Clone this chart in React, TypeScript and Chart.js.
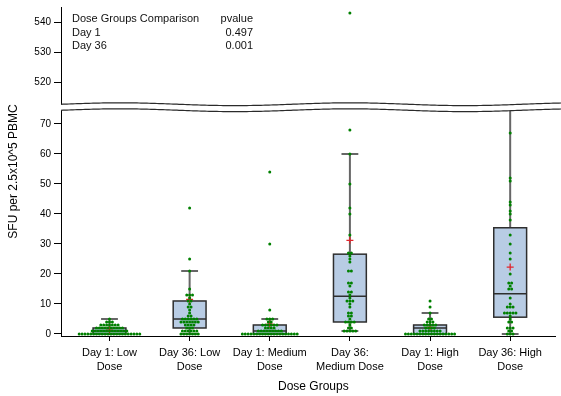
import React, { useEffect, useRef } from 'react';
import { Chart, registerables } from 'chart.js';

Chart.register(...registerables);

const FONT = '"Liberation Sans", Arial, Helvetica, sans-serif';
Chart.defaults.font.family = FONT;

// ---- data ---------------------------------------------------------------
const groupLabels: string[][] = [
  ['Day 1: Low', 'Dose'],
  ['Day 36: Low', 'Dose'],
  ['Day 1: Medium', 'Dose'],
  ['Day 36:', 'Medium Dose'],
  ['Day 1: High', 'Dose'],
  ['Day 36: High', 'Dose'],
];

const day1Low = [
  5, 4, 4, 4, 3, 3, 3, 3, 3, 3, 3, 2, 2, 2, 2, 2, 2, 2, 2, 2, 2,
  1, 1, 1, 1, 1, 1, 1, 1, 1, 1, 1, 1, 1,
  0, 0, 0, 0, 0, 0, 0, 0, 0, 0, 0, 0, 0, 0, 0, 0, 0, 0, 0, 0, 0, 0,
];
const day36Low = [
  42, 25, 21, 15, 13, 13, 13, 12, 11, 11, 10, 9, 9, 8, 7, 6, 6,
  5, 5, 5, 5, 5, 5, 4, 4, 4, 4, 4, 4, 4, 3, 3, 3, 3, 2, 2, 2,
  1, 1, 1, 1, 1, 1, 0, 0, 0, 0, 0, 0, 0,
];
const day1Medium = [
  54, 30, 8, 5, 5, 5, 4, 4, 3, 3, 3, 3, 3, 3, 2, 2, 2, 2,
  1, 1, 1, 1, 1, 1, 1, 1, 1,
  0, 0, 0, 0, 0, 0, 0, 0, 0, 0, 0, 0, 0, 0, 0, 0, 0, 0, 0, 0,
];
const day36Medium = [
  543, 68, 60, 50, 42, 40, 33, 27, 27, 26, 25, 24, 21, 21, 17, 17, 16,
  14, 14, 13, 12, 11, 11, 11, 10, 9, 7, 7, 6, 6, 5, 4, 4, 4, 4, 3, 2, 2,
  1, 1, 1, 1, 1,
];
const day1High = [
  11, 9, 7, 5, 5, 4, 4, 4, 3, 3, 3, 3, 3, 2, 2, 2, 2,
  1, 1, 1, 1, 1, 1, 1, 1,
  0, 0, 0, 0, 0, 0, 0, 0, 0, 0, 0, 0, 0, 0, 0, 0, 0, 0,
];
const day36High = [
  67, 52, 51, 44, 43, 41, 40, 38, 33, 30, 27, 25, 20, 17, 17, 16, 15, 15,
  12, 10, 9, 9, 9, 7, 7, 7, 7, 7, 6, 5, 4, 4, 2, 2, 2, 1, 1, 0, 0, 0,
];
const groupValues = [day1Low, day36Low, day1Medium, day36Medium, day1High, day36High];

// box-plot summaries per group
const q1 = [0, 2, 0, 4, 0, 5.6];
const medians = [1, 5, 1, 12.6, 2, 13.4];
const q3 = [2, 11, 3, 26.6, 3, 35.4];
const whiskerLow = [0, 0, 0, 1, 0, 0];
const whiskerHigh = [5, 21, 5, 60, 7, 78];
const means = [1.3, 11.5, 3.3, 31.2, 2.2, 22.3];

// comparison table
const tableHeader = ['Dose Groups Comparison', 'pvalue'];
const comparisons = ['Day 1', 'Day 36'];
const pvalues = ['0.497', '0.001'];

// axes
const upperTicks = [520, 530, 540];
const lowerTicks = [0, 10, 20, 30, 40, 50, 60, 70];
const upperRange = [511.7, 545];
const lowerRange = [-0.67, 75.67];
const BREAK_VALUE = 500;
const X_TITLE = 'Dose Groups';
const Y_TITLE = 'SFU per 2.5x10^5 PBMC';

// ---- layout helpers -----------------------------------------------------
const BOX_HALF = 0.205; // half box width, category units
const CAP_HALF = 0.105; // half whisker-cap width
const DOT_STEP = 0.036; // spacing of tied values in a row

function swarm(values: number[], center: number) {
  const totals = new Map<number, number>();
  values.forEach((v) => totals.set(v, (totals.get(v) || 0) + 1));
  const seen = new Map<number, number>();
  return values.map((v) => {
    const n = totals.get(v) as number;
    const k = seen.get(v) || 0;
    seen.set(v, k + 1);
    return { x: center + (k - (n - 1) / 2) * DOT_STEP, y: v };
  });
}

const lowerPoints: { x: number; y: number }[] = [];
const upperPoints: { x: number; y: number }[] = [];
groupValues.forEach((vals, i) => {
  swarm(vals, i + 1).forEach((p) => (p.y > BREAK_VALUE ? upperPoints : lowerPoints).push(p));
});
const meanPoints = means.map((m, i) => ({ x: i + 1, y: m }));

// boxes and whiskers, drawn beneath the dots
const boxPlugin = {
  id: 'boxes',
  beforeDatasetsDraw(chart: any) {
    const { ctx } = chart;
    const xs = chart.scales.x;
    const ys = chart.scales.y;
    ctx.save();
    ctx.beginPath();
    ctx.rect(chart.chartArea.left, ys.top, chart.chartArea.right - chart.chartArea.left, ys.bottom - ys.top);
    ctx.clip();
    for (let i = 0; i < q1.length; i++) {
      const c = xs.getPixelForValue(i + 1);
      const bl = xs.getPixelForValue(i + 1 - BOX_HALF);
      const br = xs.getPixelForValue(i + 1 + BOX_HALF);
      const cl = xs.getPixelForValue(i + 1 - CAP_HALF);
      const cr = xs.getPixelForValue(i + 1 + CAP_HALF);
      const yLo = ys.getPixelForValue(whiskerLow[i]);
      const yHi = ys.getPixelForValue(whiskerHigh[i]);
      const yQ1 = ys.getPixelForValue(q1[i]);
      const yQ3 = ys.getPixelForValue(q3[i]);
      const yMed = ys.getPixelForValue(medians[i]);

      ctx.strokeStyle = '#666666';
      ctx.lineWidth = 2;
      ctx.beginPath();
      ctx.moveTo(c, yLo);
      ctx.lineTo(c, yHi);
      ctx.moveTo(cl, yLo);
      ctx.lineTo(cr, yLo);
      ctx.moveTo(cl, yHi);
      ctx.lineTo(cr, yHi);
      ctx.stroke();

      ctx.fillStyle = '#b8cce4';
      ctx.fillRect(bl, yQ3, br - bl, yQ1 - yQ3);
      ctx.strokeStyle = '#2e2e2e';
      ctx.lineWidth = 1.5;
      ctx.strokeRect(bl, yQ3, br - bl, yQ1 - yQ3);
      ctx.beginPath();
      ctx.moveTo(bl, yMed);
      ctx.lineTo(br, yMed);
      ctx.stroke();
    }
    ctx.restore();
  },
};

// axis break, comparison table and axis titles
const overlayPlugin = {
  id: 'overlay',
  afterDraw(chart: any) {
    const { ctx, chartArea, width, height } = chart;
    const ys = chart.scales.y;
    const boundary = ys.top;
    const x0 = chartArea.left + 1.5;
    const P = 230;
    const A = 1.4;
    const upper = (x: number) => boundary - 2.7 - A * Math.sin((2 * Math.PI * (x - x0)) / P);
    const gap = 6;

    ctx.save();
    const xs0 = chartArea.left - 1.5;
    ctx.beginPath();
    for (let x = xs0; x <= width + 1; x += 2) {
      if (x === xs0) ctx.moveTo(x, upper(x));
      else ctx.lineTo(x, upper(x));
    }
    for (let x = width + 1; x >= xs0; x -= 2) ctx.lineTo(x, upper(x) + gap);
    ctx.closePath();
    ctx.fillStyle = '#ffffff';
    ctx.fill();

    ctx.strokeStyle = '#2b2b2b';
    ctx.lineWidth = 1.2;
    for (const off of [0, gap]) {
      ctx.beginPath();
      for (let x = chartArea.left; x <= width + 1; x += 2) {
        if (x === chartArea.left) ctx.moveTo(x, upper(x) + off);
        else ctx.lineTo(x, upper(x) + off);
      }
      ctx.stroke();
    }

    // comparison table
    ctx.fillStyle = '#111';
    ctx.font = `11px ${FONT}`;
    ctx.textBaseline = 'middle';
    const tx = chartArea.left + 11;
    const rx = chartArea.left + 192;
    const rows = [tableHeader, ...comparisons.map((c, i) => [c, pvalues[i]])];
    rows.forEach((r, i) => {
      const y = chartArea.top + 12 + i * 13.5;
      ctx.textAlign = 'left';
      ctx.fillText(r[0], tx, y);
      ctx.textAlign = 'right';
      ctx.fillText(r[1], rx, y);
    });

    // x-axis title
    ctx.fillStyle = '#000';
    ctx.font = `12px ${FONT}`;
    ctx.textAlign = 'center';
    ctx.fillText(X_TITLE, (chartArea.left + chartArea.right) / 2 + 5, height - 9);

    // y-axis title centred over both panels
    ctx.translate(14, (chartArea.top + chartArea.bottom) / 2);
    ctx.rotate(-Math.PI / 2);
    ctx.fillText(Y_TITLE, 0, 0);
    ctx.restore();
  },
};

const yAxisCommon = (ticks: number[]) => ({
  type: 'linear' as const,
  position: 'left' as const,
  stack: 'sfu',
  afterBuildTicks: (s: any) => {
    s.ticks = ticks.map((v) => ({ value: v }));
  },
  ticks: { font: { size: 10, family: FONT }, color: '#000', padding: 3 },
  grid: { drawOnChartArea: false, drawTicks: true, tickLength: 7, color: '#000' },
  border: { color: '#000', width: 1 },
  afterFit: (s: any) => {
    s.width = 61;
    s.paddingTop = 0;
    s.paddingBottom = 0;
  },
});

export default function App() {
  const canvasRef = useRef<HTMLCanvasElement | null>(null);

  useEffect(() => {
    if (!canvasRef.current) return;
    const chart = new Chart(canvasRef.current, {
      type: 'scatter',
      data: {
        datasets: [
          {
            data: lowerPoints,
            yAxisID: 'y',
            pointRadius: 1.5,
            pointBorderWidth: 0,
            pointBackgroundColor: '#008000',
            pointStyle: 'circle',
          },
          {
            data: upperPoints,
            yAxisID: 'yTop',
            pointRadius: 1.5,
            pointBorderWidth: 0,
            pointBackgroundColor: '#008000',
            pointStyle: 'circle',
          },
          {
            data: meanPoints,
            yAxisID: 'y',
            pointStyle: 'cross',
            pointRadius: 3.5,
            pointBorderWidth: 1.3,
            pointBorderColor: '#e2262d',
          },
        ],
      },
      options: {
        responsive: false,
        animation: false,
        events: [],
        devicePixelRatio: 1,
        layout: { padding: { top: 7, left: 0, right: 0, bottom: 0 } },
        plugins: { legend: { display: false }, tooltip: { enabled: false } },
        scales: {
          x: {
            type: 'linear',
            position: 'bottom',
            min: 0.395,
            max: 6.568,
            afterBuildTicks: (s: any) => {
              s.ticks = groupLabels.map((_, i) => ({ value: i + 1 }));
            },
            ticks: {
              callback: (v: any) => groupLabels[Math.round(Number(v)) - 1],
              font: { size: 11, family: FONT, lineHeight: 1.25 },
              color: '#000',
              padding: 5,
              maxRotation: 0,
              autoSkip: false,
            },
            grid: { drawOnChartArea: false, drawTicks: true, tickLength: 5, color: '#000' },
            border: { color: '#000', width: 1 },
            afterFit: (s: any) => {
              s.height = 60;
              s.paddingLeft = 0;
              s.paddingRight = 0;
            },
          },
          // lower panel first: stacked left axes are laid out in reverse order
          y: {
            ...yAxisCommon(lowerTicks),
            stackWeight: lowerRange[1] - lowerRange[0],
            min: lowerRange[0],
            max: lowerRange[1],
          },
          yTop: {
            ...yAxisCommon(upperTicks),
            stackWeight: upperRange[1] - upperRange[0],
            min: upperRange[0],
            max: upperRange[1],
          },
        } as any,
      },
      plugins: [boxPlugin, overlayPlugin],
    });
    return () => chart.destroy();
  }, []);

  return (
    <div style={{ position: 'absolute', left: 0, top: 0, width: 561, height: 396, background: '#fff' }}>
      <canvas ref={canvasRef} width={561} height={396} style={{ display: 'block' }} />
    </div>
  );
}
